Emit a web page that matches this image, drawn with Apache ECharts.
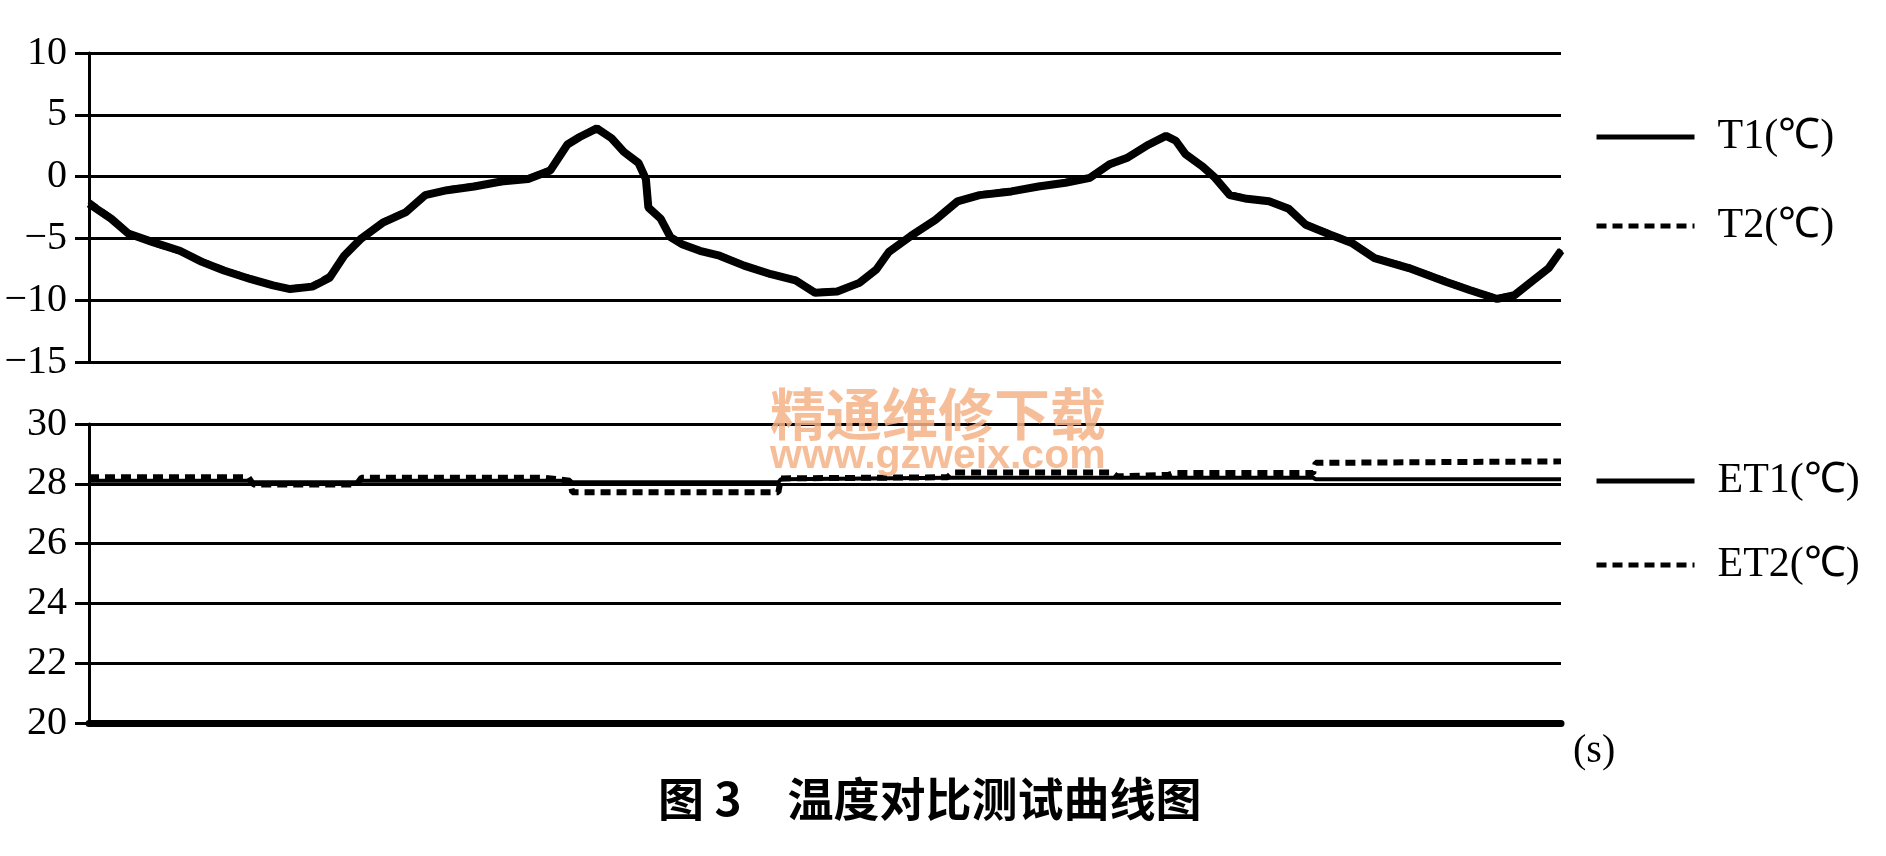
<!DOCTYPE html>
<html>
<head>
<meta charset="utf-8">
<script src="https://cdn.jsdelivr.net/npm/echarts/dist/echarts.min.js"></script>
<style>
html,body{margin:0;padding:0;background:#fff;}
#c{width:1886px;height:856px;}
</style>
</head>
<body>
<div id="c"></div>
<script>
// ---- data ----
const time = [0,45,80,130,185,230,275,330,375,410,455,490,520,555,600,645,685,730,785,840,
  895,940,975,1000,1035,1065,1090,1120,1135,1140,1165,1185,1210,1245,1285,1335,1390,1440,1480,1525,
  1570,1605,1630,1675,1725,1770,1815,1880,1935,1990,2040,2080,2115,2160,2195,2215,2235,2270,2295,2325,
  2360,2405,2445,2480,2530,2575,2620,2690,2765,2815,2870,2905,2940,2975,3000];
const T1 = [-2.2,-3.4,-4.6,-5.3,-6.0,-6.9,-7.6,-8.3,-8.8,-9.1,-8.9,-8.2,-6.4,-5.0,-3.7,-2.9,-1.5,-1.1,-0.8,-0.4,
  -0.2,0.5,2.6,3.2,3.9,3.1,2.0,1.1,-0.2,-2.5,-3.4,-4.9,-5.5,-6.0,-6.4,-7.2,-7.9,-8.4,-9.4,-9.3,
  -8.6,-7.5,-6.1,-4.8,-3.5,-2.0,-1.5,-1.2,-0.8,-0.5,-0.1,1.0,1.5,2.6,3.3,2.9,1.8,0.8,-0.1,-1.5,
  -1.8,-2.0,-2.6,-3.9,-4.7,-5.4,-6.6,-7.4,-8.5,-9.2,-9.9,-9.6,-8.5,-7.4,-6.0];
const T2 = [-2.0,-3.3,-4.5,-5.4,-6.1,-6.8,-7.5,-8.2,-8.9,-9.0,-8.8,-8.0,-6.5,-5.1,-3.6,-2.8,-1.6,-1.0,-0.7,-0.5,
  -0.1,0.6,2.5,3.3,3.8,3.2,2.1,1.0,-0.3,-2.4,-3.5,-4.8,-5.4,-6.1,-6.3,-7.1,-8.0,-8.3,-9.3,-9.2,
  -8.7,-7.4,-6.2,-4.7,-3.6,-2.1,-1.4,-1.1,-0.9,-0.4,0.0,0.9,1.6,2.5,3.2,3.0,1.7,0.9,-0.2,-1.4,
  -1.7,-2.1,-2.5,-3.8,-4.6,-5.3,-6.5,-7.3,-8.4,-9.1,-9.8,-9.5,-8.6,-7.3,-5.9];
const etTime = [0,325,335,545,555,930,980,985,1405,1410,1750,1760,2085,2095,2200,2210,2495,2500,3000];
const ET1 = [28.1,28.1,28.05,28.05,28.1,28.1,28.1,28.05,28.05,28.15,28.2,28.2,28.2,28.2,28.2,28.2,28.2,28.15,28.15];
const ET2 = [28.22,28.22,27.98,27.98,28.2,28.2,28.1,27.72,27.72,28.18,28.22,28.38,28.38,28.25,28.3,28.36,28.36,28.7,28.75];
const topRange = {min:-15, max:10, interval:5};
const bottomRange = {min:20, max:30, interval:2};
const timeRange = {min:0, max:3000};
const names = ['T1(℃)','T2(℃)','ET1(℃)','ET2(℃)'];
const titleText = '图 3\u3000温度对比测试曲线图';
const xUnit = '(s)';
const watermark = ['精通维修下载','www.gzweix.com'];

// ---- chart ----
const pair = (t, v) => t.map((x, i) => [x, v[i]]);
const serif = '"Liberation Serif","Times New Roman",serif';
const black = '#000';

function yAxis(idx, r) {
  return {
    gridIndex: idx, type: 'value', min: r.min, max: r.max, interval: r.interval,
    axisLine: {show: true, lineStyle: {color: black, width: 3}},
    axisTick: {show: true, length: 14, lineStyle: {color: black, width: 3}},
    axisLabel: {margin: 22, color: black, fontFamily: serif, fontSize: 40,
      formatter: v => String(v).replace('-', '\u2212')},
    splitLine: {show: true, lineStyle: {color: black, width: 3}}
  };
}
function xAxis(idx, showLine) {
  const a = {
    gridIndex: idx, type: 'value', min: timeRange.min, max: timeRange.max,
    axisLine: {show: showLine, onZero: false, lineStyle: {color: black, width: 7}},
    axisTick: {show: false}, axisLabel: {show: false}, splitLine: {show: false}
  };
  if (showLine) {
    a.name = xUnit; a.nameLocation = 'end'; a.nameGap = 12;
    a.nameTextStyle = {fontFamily: serif, fontSize: 40, color: black, verticalAlign: 'top', padding: [8, 0, 0, 0]};
  }
  return a;
}
const legendText = {fontFamily: serif, fontSize: 42, color: black, lineHeight: 40, padding: [0, 0, 0, 18]};

const chart = echarts.init(document.getElementById('c'), null, {renderer: 'canvas'});
chart.setOption({
  animation: false,
  backgroundColor: '#fff',
  color: [black, black, black, black],
  title: {text: titleText, left: 658, top: 776, padding: 0,
    textStyle: {fontFamily: '"Noto Sans CJK SC"', fontSize: 46, fontWeight: 'bold', color: black}},
  grid: [
    {left: 89, top: 53, width: 1472, height: 309},
    {left: 89, top: 424, width: 1472, height: 299}
  ],
  xAxis: [xAxis(0, false), xAxis(1, true)],
  yAxis: [yAxis(0, topRange), yAxis(1, bottomRange)],
  legend: [
    {data: [names[0], names[1]], orient: 'vertical', left: 1594, top: 116, padding: 0,
      itemWidth: 98, itemHeight: 5, itemGap: 47, textStyle: legendText,
      lineStyle: {width: 5}, itemStyle: {opacity: 0}},
    {data: [names[2], names[3]], orient: 'vertical', left: 1594, top: 460, padding: 0,
      itemWidth: 98, itemHeight: 5, itemGap: 42, textStyle: legendText,
      lineStyle: {width: 5}, itemStyle: {opacity: 0}}
  ],
  graphic: [
    {type: 'text', left: 770, top: 386, z: 100,
      style: {text: watermark[0], font: 'bold 56px "Noto Sans CJK SC"', fill: 'rgba(245,178,135,0.85)'}},
    {type: 'text', left: 770, top: 436, z: 100,
      style: {text: watermark[1], font: 'bold 41px "Liberation Sans"', fill: 'rgba(245,178,135,0.85)'}}
  ],
  series: [
    {name: names[1], type: 'line', xAxisIndex: 0, yAxisIndex: 0, data: pair(time, T2), symbol: 'none',
      z: 2, itemStyle: {color: black}, lineStyle: {color: black, width: 5, type: [10, 6]}},
    {name: names[0], type: 'line', xAxisIndex: 0, yAxisIndex: 0, data: pair(time, T1), symbol: 'none',
      z: 3, itemStyle: {color: black}, lineStyle: {color: black, width: 8}},
    {name: names[2], type: 'line', xAxisIndex: 1, yAxisIndex: 1, data: pair(etTime, ET1), symbol: 'none',
      z: 3, itemStyle: {color: black}, lineStyle: {color: black, width: 4}},
    {name: names[3], type: 'line', xAxisIndex: 1, yAxisIndex: 1, data: pair(etTime, ET2), symbol: 'none',
      z: 2, itemStyle: {color: black}, lineStyle: {color: black, width: 6, type: [10, 6]}}
  ]
});
</script>
</body>
</html>
